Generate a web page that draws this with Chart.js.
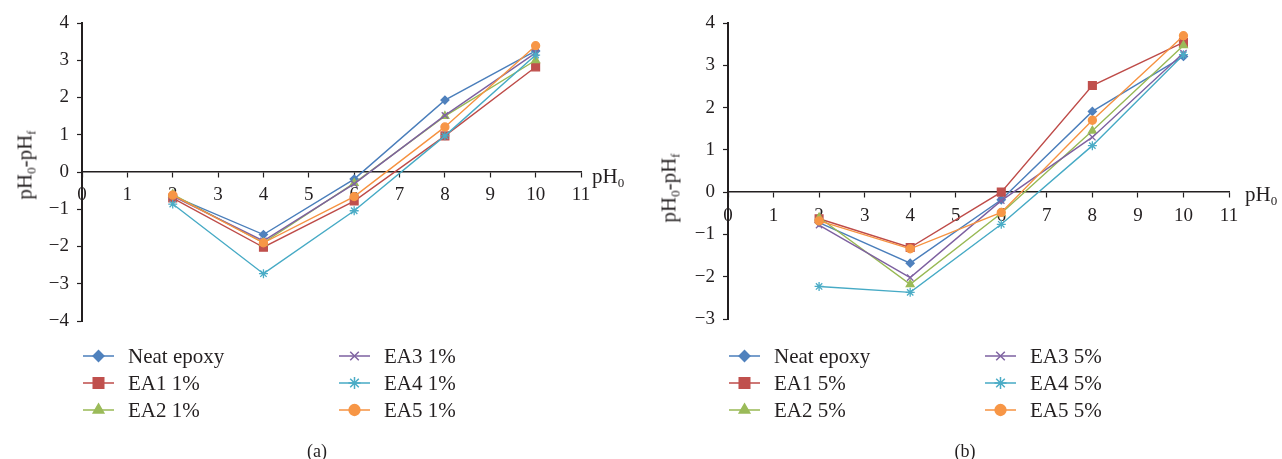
<!DOCTYPE html>
<html>
<head>
<meta charset="utf-8">
<script src="https://cdn.jsdelivr.net/npm/chart.js@4.4.0/dist/chart.umd.min.js"></script>
<style>
  body { margin: 0; background: #fff; font-family: "Liberation Serif", "DejaVu Serif", serif; color: #231f20; }
  .panel { position: absolute; top: 0; width: 641px; height: 459px; }
  .lbl { position: absolute; white-space: nowrap; line-height: 1; }
  .ytitle { font-size: 21px; transform: translate(-50%, -50%) rotate(-90deg); }
  .xtitle { font-size: 21px; transform: translate(0, -50%); }
  .caption { font-size: 18px; transform: translate(-50%, -50%); }
  sub { font-size: 0.62em; vertical-align: baseline; position: relative; top: 0.32em; }
</style>
</head>
<body>
<div class="panel" style="left:0">
  <canvas id="chartA" width="641" height="459"></canvas>
  <div class="lbl ytitle" style="left:25px; top:165px">pH<sub>0</sub>-pH<sub>f</sub></div>
  <div class="lbl xtitle" style="left:592px; top:176px">pH<sub>0</sub></div>
  <div class="lbl caption" style="left:317px; top:451px">(a)</div>
</div>
<div class="panel" style="left:641px">
  <canvas id="chartB" width="641" height="459"></canvas>
  <div class="lbl ytitle" style="left:28px; top:188px">pH<sub>0</sub>-pH<sub>f</sub></div>
  <div class="lbl xtitle" style="left:604px; top:194px">pH<sub>0</sub></div>
  <div class="lbl caption" style="left:324px; top:451px">(b)</div>
</div>
<script>
// initial pH values
const xValues = [2, 4, 6, 8, 10];

// (a) 1 wt% additive
const labelsA = ['Neat epoxy', 'EA1 1%', 'EA2 1%', 'EA3 1%', 'EA4 1%', 'EA5 1%'];
const neatA = [-0.64, -1.68, -0.19, 1.93, 3.25];
const ea1A = [-0.70, -2.02, -0.78, 0.97, 2.82];
const ea2A = [-0.60, -1.90, -0.30, 1.50, 3.00];
const ea3A = [-0.65, -1.85, -0.32, 1.52, 3.20];
const ea4A = [-0.86, -2.73, -1.04, 0.97, 3.14];
const ea5A = [-0.62, -1.90, -0.66, 1.21, 3.39];

// (b) 5 wt% additive
const labelsB = ['Neat epoxy', 'EA1 5%', 'EA2 5%', 'EA3 5%', 'EA4 5%', 'EA5 5%'];
const neatB = [-0.72, -1.68, -0.18, 1.91, 3.21];
const ea1B = [-0.63, -1.31, 0.00, 2.52, 3.54];
const ea2B = [-0.60, -2.18, -0.50, 1.45, 3.47];
const ea3B = [-0.78, -2.02, -0.20, 1.30, 3.29];
const ea4B = [-2.23, -2.37, -0.76, 1.10, 3.25];
const ea5B = [-0.68, -1.34, -0.48, 1.70, 3.70];

const xTicks = [0, 1, 2, 3, 4, 5, 6, 7, 8, 9, 10, 11];

const seriesStyle = [
  { line: '#4a7ebb', fill: '#4f81bd', point: 'rectRot', r: 4 },
  { line: '#be4b48', fill: '#c0504d', point: 'rect', r: 5.5 },
  { line: '#98b954', fill: '#9bbb59', point: 'triangle', r: 4.5 },
  { line: '#7d60a0', fill: '#8064a2', point: 'crossRot', r: 4.5 },
  { line: '#46aac5', fill: '#4bacc6', point: 'star', r: 4.5 },
  { line: '#f69240', fill: '#f79646', point: 'circle', r: 4 }
];

const serif = '"Liberation Serif", "DejaVu Serif", serif';

function minus(v) {
  return v < 0 ? '\u2212' + Math.abs(v) : String(v);
}

// two-column legend under the plot, drawn from the datasets
const columnLegend = {
  id: 'columnLegend',
  afterDraw(chart) {
    const ctx = chart.ctx;
    const left = Math.round(chart.chartArea.left);
    ctx.save();
    ctx.font = '21px ' + serif;
    ctx.textBaseline = 'middle';
    chart.data.datasets.forEach(function(ds, i) {
      const col = Math.floor(i / 3);
      const row = i % 3;
      const x = left + 1 + col * 256;
      const y = 356 + row * 27;
      ctx.strokeStyle = ds.borderColor;
      ctx.lineWidth = 1.5;
      ctx.beginPath();
      ctx.moveTo(x, y);
      ctx.lineTo(x + 31, y);
      ctx.stroke();
      ctx.fillStyle = ds.pointBackgroundColor;
      ctx.strokeStyle = ds.pointBorderColor;
      Chart.helpers.drawPoint(ctx, {
        pointStyle: ds.pointStyle,
        radius: ds.pointRadius * 1.35,
        borderWidth: 1.5,
        rotation: 0
      }, x + 15.5, y);
      ctx.fillStyle = '#231f20';
      ctx.fillText(ds.label, x + 45, y + 1);
    });
    ctx.restore();
  }
};

function makeChart(id, labels, series, yMin, padLeft, padRight, padBottom) {
  const ctx = document.getElementById(id).getContext('2d');
  const datasets = series.map(function(vals, i) {
    const s = seriesStyle[i];
    return {
      label: labels[i],
      data: xValues.map(function(x, j) { return { x: x, y: vals[j] }; }),
      borderColor: s.line,
      borderWidth: 1.4,
      pointStyle: s.point,
      pointRadius: s.r,
      pointBackgroundColor: s.fill,
      pointBorderColor: s.fill,
      pointBorderWidth: 1.3,
      tension: 0,
      order: series.length - i
    };
  });

  return new Chart(ctx, {
    type: 'line',
    data: { datasets: datasets },
    options: {
      responsive: false,
      animation: false,
      layout: { padding: { left: padLeft, right: padRight, top: 23, bottom: padBottom } },
      plugins: {
        legend: { display: false },
        tooltip: { enabled: false }
      },
      scales: {
        x: {
          type: 'linear',
          min: 0,
          max: 11,
          position: { y: 0 },
          afterBuildTicks: function(scale) {
            scale.ticks = xTicks.map(function(v) { return { value: v }; });
          },
          ticks: {
            autoSkip: false,
            maxRotation: 0,
            padding: 7,
            color: '#231f20',
            font: { family: serif, size: 19 },
            callback: function(v) { return String(v); }
          },
          grid: { drawOnChartArea: false, tickLength: 5, tickColor: '#231f20', tickWidth: 1.2 },
          border: { color: '#231f20', width: 1.5 }
        },
        y: {
          type: 'linear',
          min: yMin,
          max: 4,
          position: 'left',
          afterFit: function(scale) { scale.width = 70; },
          ticks: {
            stepSize: 1,
            padding: 8,
            color: '#231f20',
            font: { family: serif, size: 19 },
            callback: minus
          },
          grid: { drawOnChartArea: false, tickLength: 5, tickColor: '#231f20', tickWidth: 1.2 },
          border: { color: '#231f20', width: 2 }
        }
      }
    },
    plugins: [columnLegend]
  });
}

document.addEventListener('DOMContentLoaded', function() {
  makeChart('chartA', labelsA, [neatA, ea1A, ea2A, ea3A, ea4A, ea5A], -4, 12, 60, 138);
  makeChart('chartB', labelsB, [neatB, ea1B, ea2B, ea3B, ea4B, ea5B], -3, 17, 53, 140);
});
</script>
</body>
</html>
